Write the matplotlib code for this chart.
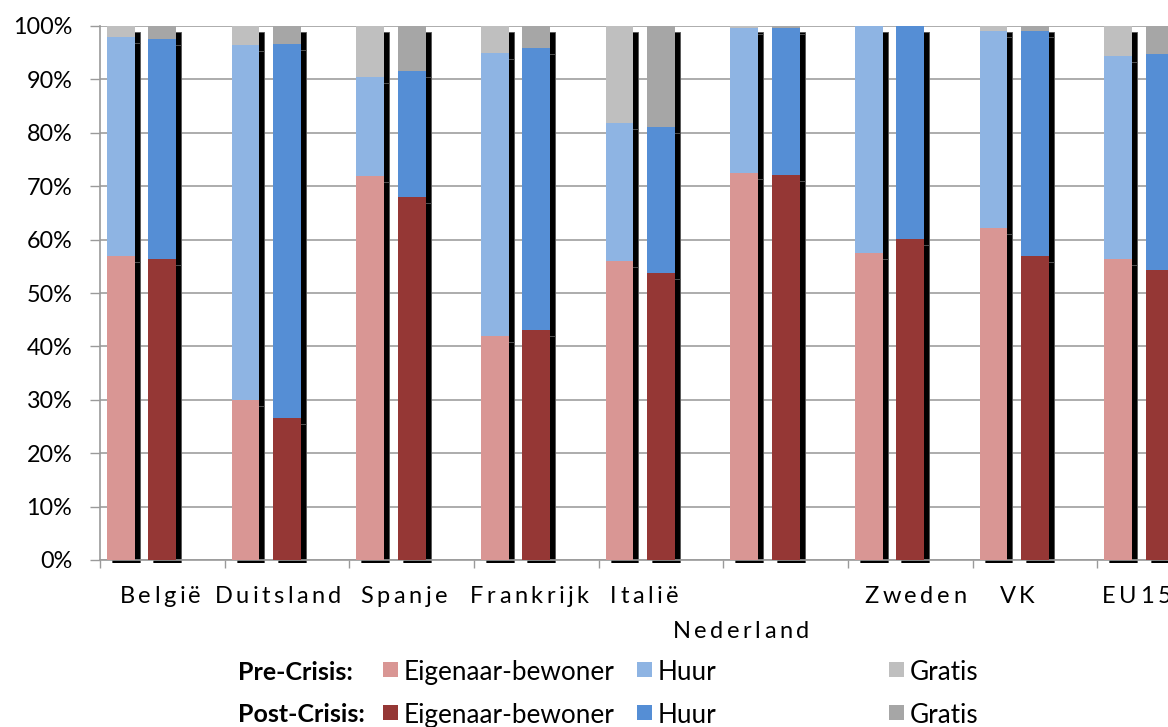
import numpy as np
import matplotlib
matplotlib.use('Agg')
import matplotlib.pyplot as plt
from matplotlib.patches import Rectangle
from matplotlib.transforms import offset_copy, Bbox
from matplotlib.font_manager import FontProperties, findfont
from matplotlib.ft2font import FT2Font

plt.rcParams['font.family'] = ['Lato', 'DejaVu Sans']

# categories and stacked shares (%)
countries = ['België', 'Duitsland', 'Spanje', 'Frankrijk', 'Italië',
             'Nederland', 'Zweden', 'VK', 'EU15']

pre_owner = [57.0, 30.0, 71.9, 41.9, 56.0, 72.5, 57.5, 62.2, 56.3]
pre_rent = [41.0, 66.5, 18.5, 53.0, 25.8, 27.2, 42.5, 36.9, 38.1]
pre_free = [2.0, 3.5, 9.6, 5.1, 18.2, 0.3, 0.0, 0.9, 5.6]

post_owner = [56.3, 26.5, 68.0, 43.0, 53.8, 72.1, 60.1, 56.9, 54.3]
post_rent = [41.3, 70.1, 23.6, 52.9, 27.3, 27.5, 39.9, 42.2, 40.5]
post_free = [2.4, 3.4, 8.4, 4.1, 18.9, 0.4, 0.0, 0.9, 5.2]

segment_names = ['Eigenaar-bewoner', 'Huur', 'Gratis']
pre_colors = ['#d99694', '#8eb4e3', '#bfbfbf']
post_colors = ['#953735', '#558ed5', '#a6a6a6']

# label placement tweaks (pixels), category labels sit a bit off-centre in the original
label_shift_px = [-2, -9, -8, -7, -17, -45, 5, -18, -23]
label_row = [0, 0, 0, 0, 0, 1, 0, 0, 0]

W, H = 1168, 727
fig = plt.figure(figsize=(W / 100, H / 100), dpi=100)
# axes run past the right edge, like the cropped original
ax = fig.add_axes([100 / W, 167 / H, 1122 / W, 534 / H])

# black drop shadow behind every segment, offset right/down
shadow_tr = offset_copy(ax.transData, fig=fig, x=5, y=-6, units='dots')
shadow_clip = Bbox.from_extents(0, 164, W, H)
x = np.arange(len(countries))
bar_w = 2 / 9


def stacked(offset, series, colors):
    bottom = np.zeros(len(countries))
    for vals, col in zip(series, colors):
        vals = np.array(vals)
        shadow = ax.bar(x + offset, vals, bar_w, bottom=bottom, color='black',
                        edgecolor='#555555', linewidth=0.6, zorder=2)
        for p in shadow:
            p.set_transform(shadow_tr)
            p.set_clip_box(shadow_clip)
        ax.bar(x + offset, vals, bar_w, bottom=bottom, color=col,
               linewidth=0, zorder=3)
        bottom += vals


stacked(1 / 6, [pre_owner, pre_rent, pre_free], pre_colors)
stacked(1 / 2, [post_owner, post_rent, post_free], post_colors)

ax.set_xlim(0, len(countries))
ax.set_ylim(0, 100)
ax.set_yticks(np.arange(0, 101, 10))
ax.set_yticklabels([f'{v}%' for v in range(0, 101, 10)], fontsize=16.8)
ax.set_xticks(np.arange(0, len(countries) + 1))
ax.set_xticklabels([])
ax.tick_params(axis='y', length=7, width=1, color='#9a9a9a', pad=13)
ax.tick_params(axis='x', length=6, width=1, color='#9a9a9a')
ax.set_axisbelow(True)
ax.yaxis.grid(True, color='#a6a6a6', linewidth=1.3)
for s in ['top', 'right']:
    ax.spines[s].set_visible(False)
for s in ['left', 'bottom']:
    ax.spines[s].set_color('#9a9a9a')
    ax.spines[s].set_linewidth(1.2)

# category labels with letter spacing, placed one glyph at a time
lab_size = 17
lab_font = FT2Font(findfont(FontProperties(family='Lato')))
lab_font.set_size(lab_size, 100)
gap = 3.5


def advance(ch):
    return lab_font.load_char(ord(ch)).linearHoriAdvance / 65536


for i, name in enumerate(countries):
    widths = [advance(ch) for ch in name]
    total = sum(widths) + gap * (len(name) - 1)
    xc = ax.transData.transform((i + 0.5, 0))[0] + label_shift_px[i]
    xp = xc - total / 2
    base = 603 + 35 * label_row[i]
    for ch, w in zip(name, widths):
        fig.text(xp / W, 1 - base / H, ch, fontsize=lab_size,
                 ha='left', va='baseline')
        xp += w + gap

# legend drawn by hand to keep the uneven spacing of the original
rows = [('Pre-Crisis:', pre_colors, 670), ('Post-Crisis:', post_colors, 713)]
handle_x = [383, 637, 889]
for title, colors, yc in rows:
    fig.text(238 / W, 1 - yc / H, title, fontsize=18, fontweight='bold',
             ha='left', va='center_baseline')
    for hx, col, name in zip(handle_x, colors, segment_names):
        fig.add_artist(Rectangle((hx / W, 1 - (yc + 7) / H), 15 / W, 15 / H,
                                 transform=fig.transFigure, facecolor=col,
                                 edgecolor='none'))
        fig.text((hx + 21) / W, 1 - yc / H, name, fontsize=18.8,
                 ha='left', va='center_baseline')

fig.savefig('out.png', dpi=100)
